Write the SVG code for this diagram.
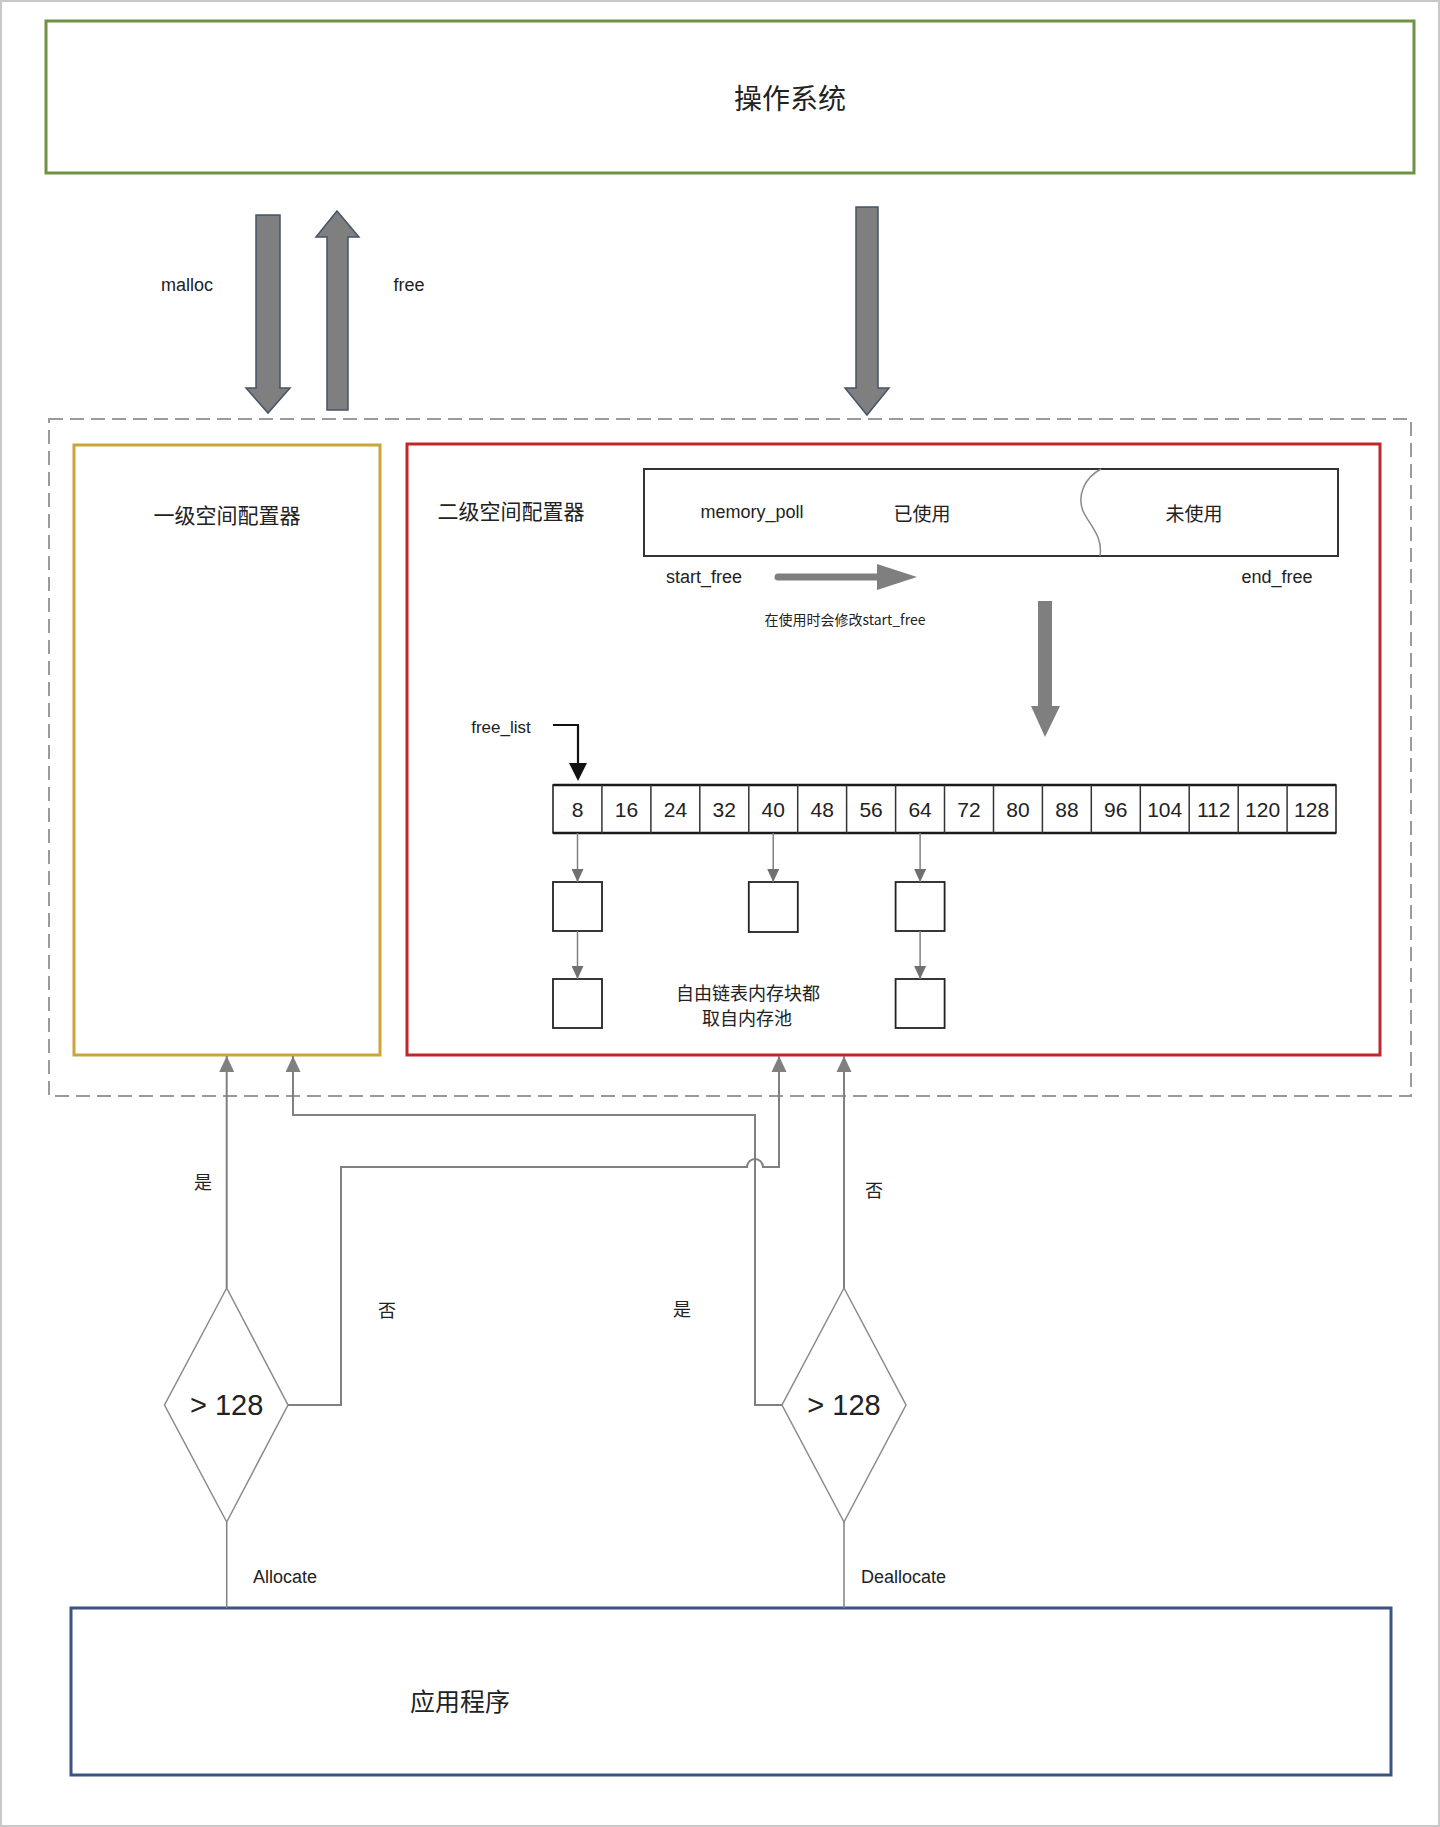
<svg xmlns="http://www.w3.org/2000/svg" width="1440" height="1827" viewBox="0 0 1440 1827">
<style>
.t{font-family:"Liberation Sans","Noto Sans CJK SC",sans-serif;fill:#222;text-anchor:middle;dominant-baseline:central}
.cjk{font-family:"Noto Sans CJK SC","Liberation Sans",sans-serif;fill:#222;text-anchor:middle;dominant-baseline:central}
.lbl{font-size:18px}
.num{font-size:21px}
.big{fill:#7f7f7f;stroke:#44546a;stroke-width:1.5}
.conn{fill:none;stroke:#808080;stroke-width:2}
.thin{fill:none;stroke:#808080;stroke-width:1.5}
.box{fill:#fff;stroke:#222;stroke-width:1.8}
.dia{fill:#fff;stroke:#8a8a8a;stroke-width:1.5}
</style>
<defs>
<marker id="ah" markerUnits="userSpaceOnUse" markerWidth="16" markerHeight="16" refX="16" refY="8" orient="auto">
<path d="M0,0.5 L16,8 L0,15.5 z" fill="#808080"/>
</marker>
<marker id="ahs" markerUnits="userSpaceOnUse" markerWidth="13" markerHeight="12" refX="13" refY="6" orient="auto">
<path d="M0,0 L13,6 L0,12 z" fill="#707070"/>
</marker>
</defs>
<rect x="1" y="1" width="1438" height="1825" fill="#fff" stroke="#c8c8c8" stroke-width="2"/>

<g id="os">
<rect x="46" y="21" width="1368" height="152" fill="#fff" stroke="#6f9346" stroke-width="3"/>
<text class="cjk" x="790" y="97" font-size="28">操作系统</text>
</g>

<g id="big-arrows">
<polygon class="big" points="256,215 280,215 280,388 290,388 268,413 246,388 256,388"/>
<polygon class="big" points="337,211 359,237 348,237 348,410 327,410 327,237 316,237"/>
<polygon class="big" points="856,207 878,207 878,388 889,388 867,415 845,388 856,388"/>
<text class="t lbl" x="187" y="285">malloc</text>
<text class="t lbl" x="409" y="285">free</text>
</g>

<g id="allocator-container">
<rect x="49" y="419" width="1362" height="677" fill="none" stroke="#9a9a9a" stroke-width="2" stroke-dasharray="14 7"/>
</g>

<g id="level1">
<rect x="74" y="445" width="306" height="610" fill="#fff" stroke="#c9a53a" stroke-width="3"/>
<text class="cjk" x="227" y="514" font-size="21">一级空间配置器</text>
</g>

<g id="level2">
<rect x="407" y="444" width="973" height="611" fill="#fff" stroke="#c0272d" stroke-width="3"/>
<text class="cjk" x="511" y="510" font-size="21">二级空间配置器</text>
</g>

<g id="memory-pool">
<rect x="644" y="469" width="694" height="87" fill="#fff" stroke="#333" stroke-width="2"/>
<path d="M1101 469 C1084 478,1077 496,1083 511 C1090 526,1103 536,1100 556" fill="none" stroke="#8a8a8a" stroke-width="1.5"/>
<text class="t" x="752" y="512" font-size="18">memory_poll</text>
<text class="cjk" x="922" y="512" font-size="19">已使用</text>
<text class="cjk" x="1194" y="512" font-size="19">未使用</text>
<text class="t" x="704" y="577" font-size="18">start_free</text>
<text class="t" x="1277" y="577" font-size="18">end_free</text>
<line x1="778" y1="577" x2="880" y2="577" stroke="#7f7f7f" stroke-width="7" stroke-linecap="round"/>
<polygon points="877,564 917,577 877,590" fill="#7f7f7f"/>
<text class="cjk" x="845" y="619" font-size="14">在使用时会修改start_free</text>
<polygon points="1038,601 1052,601 1052,706 1060,706 1045,737 1031,706 1038,706" fill="#7f7f7f"/>
</g>

<g id="free-list">
<text class="t" x="501" y="727" font-size="17">free_list</text>
<polyline points="553,725 578,725 578,765" fill="none" stroke="#111" stroke-width="2.2"/>
<polygon points="569,763 587,763 578,781" fill="#111"/>
<rect x="553" y="785" width="783" height="48" fill="#fff" stroke="#1a1a1a" stroke-width="1.5"/>
<line x1="553" y1="785" x2="1336" y2="785" stroke="#1a1a1a" stroke-width="2.5"/>
<line x1="553" y1="833" x2="1336" y2="833" stroke="#1a1a1a" stroke-width="2.5"/>
<g stroke="#333" stroke-width="1.5">
<line x1="601.9" y1="785" x2="601.9" y2="833"/>
<line x1="650.9" y1="785" x2="650.9" y2="833"/>
<line x1="699.8" y1="785" x2="699.8" y2="833"/>
<line x1="748.8" y1="785" x2="748.8" y2="833"/>
<line x1="797.7" y1="785" x2="797.7" y2="833"/>
<line x1="846.6" y1="785" x2="846.6" y2="833"/>
<line x1="895.6" y1="785" x2="895.6" y2="833"/>
<line x1="944.5" y1="785" x2="944.5" y2="833"/>
<line x1="993.5" y1="785" x2="993.5" y2="833"/>
<line x1="1042.4" y1="785" x2="1042.4" y2="833"/>
<line x1="1091.3" y1="785" x2="1091.3" y2="833"/>
<line x1="1140.3" y1="785" x2="1140.3" y2="833"/>
<line x1="1189.2" y1="785" x2="1189.2" y2="833"/>
<line x1="1238.2" y1="785" x2="1238.2" y2="833"/>
<line x1="1287.1" y1="785" x2="1287.1" y2="833"/>
</g>
<text class="t num" x="577.5" y="809">8</text>
<text class="t num" x="626.4" y="809">16</text>
<text class="t num" x="675.4" y="809">24</text>
<text class="t num" x="724.3" y="809">32</text>
<text class="t num" x="773.2" y="809">40</text>
<text class="t num" x="822.2" y="809">48</text>
<text class="t num" x="871.1" y="809">56</text>
<text class="t num" x="920.1" y="809">64</text>
<text class="t num" x="969" y="809">72</text>
<text class="t num" x="1017.9" y="809">80</text>
<text class="t num" x="1066.9" y="809">88</text>
<text class="t num" x="1115.8" y="809">96</text>
<text class="t num" x="1164.7" y="809">104</text>
<text class="t num" x="1213.7" y="809">112</text>
<text class="t num" x="1262.6" y="809">120</text>
<text class="t num" x="1311.6" y="809">128</text>
</g>

<g id="block-8a"><rect class="box" x="553" y="882" width="49" height="49"/></g>
<g id="block-8b"><rect class="box" x="553" y="979" width="49" height="49"/></g>
<g id="block-40a"><rect class="box" x="748.8" y="882" width="49" height="50"/></g>
<g id="block-64a"><rect class="box" x="895.6" y="882" width="49" height="49"/></g>
<g id="block-64b"><rect class="box" x="895.6" y="979" width="49" height="49"/></g>
<g id="pool-note">
<text class="cjk" x="748" y="992" font-size="18">自由链表内存块都</text>
<text class="cjk" x="747" y="1017" font-size="18">取自内存池</text>
</g>

<g id="diamond-alloc">
<polygon class="dia" points="226.7,1288 288,1405 226.7,1522 164.5,1405"/>
<text class="t" x="226.7" y="1405" font-size="29">&gt; 128</text>
</g>
<g id="diamond-dealloc">
<polygon class="dia" points="844,1288 906,1405 844,1522 782,1405"/>
<text class="t" x="844" y="1405" font-size="29">&gt; 128</text>
</g>

<g id="app">
<rect x="71" y="1608" width="1320" height="167" fill="#fff" stroke="#3b5484" stroke-width="3"/>
<text class="cjk" x="460" y="1700" font-size="25">应用程序</text>
</g>

<g id="connectors">
<line class="thin" x1="577.5" y1="833" x2="577.5" y2="882" marker-end="url(#ahs)"/>
<line class="thin" x1="773.2" y1="833" x2="773.2" y2="882" marker-end="url(#ahs)"/>
<line class="thin" x1="920.1" y1="833" x2="920.1" y2="882" marker-end="url(#ahs)"/>
<line class="thin" x1="577.5" y1="931" x2="577.5" y2="979" marker-end="url(#ahs)"/>
<line class="thin" x1="920.1" y1="931" x2="920.1" y2="979" marker-end="url(#ahs)"/>

<line class="conn" x1="226.7" y1="1288" x2="226.7" y2="1056" marker-end="url(#ah)"/>
<path class="conn" d="M288 1405 L341 1405 L341 1167 L747 1167 A8 8 0 0 1 763 1167 L779 1167 L779 1056" marker-end="url(#ah)"/>
<path class="conn" d="M782 1405 L755 1405 L755 1115 L293 1115 L293 1056" marker-end="url(#ah)"/>
<line class="conn" x1="844" y1="1288" x2="844" y2="1056" marker-end="url(#ah)"/>
<line class="thin" x1="226.7" y1="1522" x2="226.7" y2="1608"/>
<line class="thin" x1="844" y1="1522" x2="844" y2="1608"/>

<text class="cjk" x="203" y="1181" font-size="18">是</text>
<text class="cjk" x="387" y="1309" font-size="18">否</text>
<text class="cjk" x="682" y="1308" font-size="18">是</text>
<text class="cjk" x="874" y="1189" font-size="18">否</text>
<text class="t" x="253" y="1577" font-size="18" text-anchor="start" style="text-anchor:start">Allocate</text>
<text class="t" x="861" y="1577" font-size="18" style="text-anchor:start">Deallocate</text>
</g>
</svg>
